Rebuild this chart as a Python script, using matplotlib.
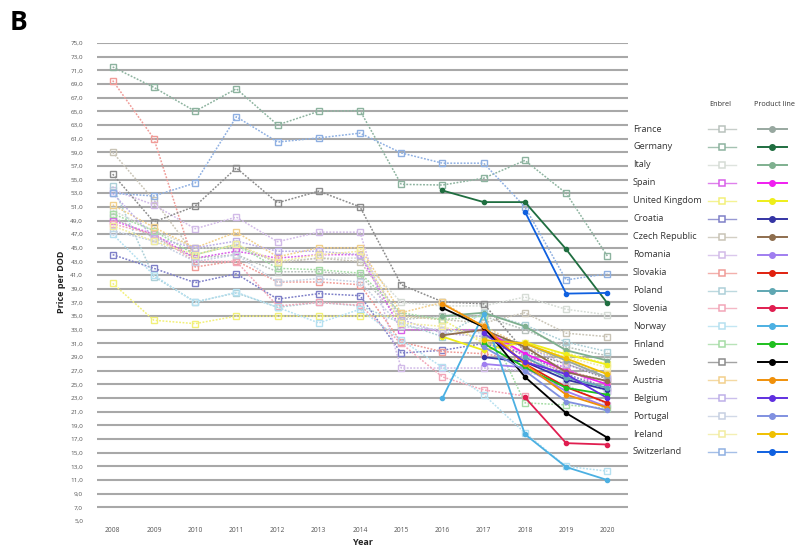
import matplotlib
matplotlib.use("Agg")
import matplotlib.pyplot as plt
from matplotlib.lines import Line2D
import numpy as np

plt.rcParams['font.family'] = ['Open Sans', 'DejaVu Sans']

years = list(range(2008, 2021))
countries = ["France", "Germany", "Italy", "Spain", "United Kingdom", "Croatia",
             "Czech Republic", "Romania", "Slovakia", "Poland", "Slovenia", "Norway",
             "Finland", "Sweden", "Austria", "Belgium", "Portugal", "Ireland", "Switzerland"]

N = None
# Price per DDD of Enbrel, 2008-2020
enbrel = {
    "France":         [49.5, 46.5, 43.5, 44.0, 41.5, 41.5, 41.0, 34.5, 35.0, 35.0, 33.0, 30.5, 29.2],
    "Germany":        [71.5, 68.5, 65.0, 68.3, 63.0, 65.0, 65.1, 54.3, 54.2, 55.2, 57.8, 53.0, 43.8],
    "Italy":          [50.5, 47.5, 45.0, 45.0, 43.0, 43.5, 43.5, 37.0, 36.5, 36.5, 37.8, 36.0, 35.2],
    "Spain":          [49.0, 47.0, 43.5, 44.5, 43.5, 44.0, 44.0, 33.0, 33.0, 33.0, 29.0, 27.5, 24.0],
    "United Kingdom": [39.8, 34.4, 33.9, 35.0, 35.0, 35.0, 35.0, 35.0, 34.5, 31.0, 30.0, 29.6, 28.0],
    "Croatia":        [44.0, 42.0, 39.9, 41.2, 37.5, 38.3, 38.0, 29.6, 30.0, 31.0, 29.5, 26.5, 24.5],
    "Czech Republic": [59.0, 52.0, 44.0, 45.5, 42.8, 43.5, 43.0, 35.0, 34.5, 34.0, 35.5, 32.5, 32.0],
    "Romania":        [53.5, 51.3, 47.8, 49.5, 45.9, 47.3, 47.3, 27.4, 27.4, 27.4, 27.0, 25.0, 22.0],
    "Slovakia":       [69.5, 61.0, 42.2, 43.1, 40.0, 40.0, 39.6, 31.2, 29.8, 29.5, 28.5, 27.0, 25.5],
    "Poland":         [54.0, 40.8, 37.1, 38.4, 36.3, 37.0, 36.5, 34.0, 32.0, 35.5, 33.7, 31.2, 29.8],
    "Slovenia":       [48.5, 47.0, 43.0, 43.0, 36.5, 37.0, 36.6, 31.0, 26.1, 24.2, 23.3, N, N],
    "Norway":         [47.0, 41.0, 37.0, 38.5, 36.3, 34.0, 36.0, 31.5, 27.5, 23.5, 17.9, 13.0, 12.3],
    "Finland":        [50.0, 47.5, 44.0, 45.5, 42.0, 41.8, 41.3, 35.5, 34.5, 35.0, 22.3, 22.0, 21.5],
    "Sweden":         [55.8, 48.8, 51.1, 56.7, 51.6, 53.3, 51.0, 39.6, 37.1, 36.8, 29.8, 28.0, 25.8],
    "Austria":        [51.3, 48.0, 45.0, 47.3, 43.7, 45.0, 45.0, 35.5, 37.0, 33.5, 30.5, 28.5, 26.5],
    "Belgium":        [53.0, 46.5, 45.0, 46.0, 44.5, 44.5, 44.0, 34.5, 32.5, 32.0, 30.5, 28.0, 26.0],
    "Portugal":       [47.5, 46.0, 43.0, 44.0, 40.0, 40.5, 40.0, 33.5, 33.0, 32.5, 29.5, 26.0, 24.0],
    "Ireland":        [48.2, 46.0, 44.0, 45.5, 43.0, 44.0, 44.5, 34.0, 33.5, 31.5, 31.0, 29.0, 27.5],
    "Switzerland":    [53.0, 52.6, 54.5, 64.2, 60.5, 61.1, 61.8, 58.9, 57.4, 57.4, 51.0, 40.3, 41.2],
}

# Price per DDD of the whole product line (originator + biosimilars), 2008-2020
product_line = {
    "France":         [N, N, N, N, N, N, N, N, N, 32.0, 31.0, 28.5, 26.0],
    "Germany":        [N, N, N, N, N, N, N, N, 53.4, 51.7, 51.7, 44.8, 36.9],
    "Italy":          [N, N, N, N, N, N, N, N, 35.0, 35.5, 33.5, 30.0, 28.5],
    "Spain":          [N, N, N, N, N, N, N, N, N, 33.0, 29.5, 27.0, 25.0],
    "United Kingdom": [N, N, N, N, N, N, N, N, 32.0, 30.0, 31.2, 29.4, 27.9],
    "Croatia":        [N, N, N, N, N, N, N, N, N, 29.0, 28.3, 25.7, 24.2],
    "Czech Republic": [N, N, N, N, N, N, N, N, 32.2, 33.0, 30.5, 26.8, 25.5],
    "Romania":        [N, N, N, N, N, N, N, N, N, 28.0, 27.5, 24.0, 21.7],
    "Slovakia":       [N, N, N, N, N, N, N, N, N, 33.2, 28.0, 24.6, 22.3],
    "Poland":         [N, N, N, N, N, N, N, N, N, N, 29.0, 26.0, 24.5],
    "Slovenia":       [N, N, N, N, N, N, N, N, N, N, 23.1, 16.4, 16.2],
    "Norway":         [N, N, N, N, N, N, N, N, 23.0, 35.3, 17.7, 12.9, 11.0],
    "Finland":        [N, N, N, N, N, N, N, N, N, 31.0, 27.5, 24.5, 23.5],
    "Sweden":         [N, N, N, N, N, N, N, N, 36.2, 33.4, 26.1, 20.8, 17.2],
    "Austria":        [N, N, N, N, N, N, N, N, 36.8, 33.5, 28.0, 23.5, 21.6],
    "Belgium":        [N, N, N, N, N, N, N, N, N, 32.5, 28.3, 26.5, 23.0],
    "Portugal":       [N, N, N, N, N, N, N, N, N, 30.5, 27.0, 22.5, 21.2],
    "Ireland":        [N, N, N, N, N, N, N, N, N, 31.5, 31.0, 28.8, 26.5],
    "Switzerland":    [N, N, N, N, N, N, N, N, N, N, 50.3, 38.3, 38.4],
}

enbrel_colors = {
    "France": "#b9c2bd", "Germany": "#8db39f", "Italy": "#d6dcd6", "Spain": "#d860e8",
    "United Kingdom": "#f2f07a", "Croatia": "#7f80c8", "Czech Republic": "#c9c4b6",
    "Romania": "#d2bbe8", "Slovakia": "#f09c98", "Poland": "#add0d8", "Slovenia": "#f2a6b8",
    "Norway": "#b5e0f0", "Finland": "#a6dca6", "Sweden": "#8c8c8c", "Austria": "#f2d08c",
    "Belgium": "#beb0e8", "Portugal": "#c6d0e2", "Ireland": "#f2eca0", "Switzerland": "#8fb0e2",
}
product_colors = {
    "France": "#98a8a0", "Germany": "#1f6e40", "Italy": "#7fb08f", "Spain": "#f01ef0",
    "United Kingdom": "#eeee1a", "Croatia": "#3434a4", "Czech Republic": "#8e6e4e",
    "Romania": "#a07ef0", "Slovakia": "#e0200e", "Poland": "#5fa7b2", "Slovenia": "#e01e50",
    "Norway": "#4cb0e2", "Finland": "#1ec01e", "Sweden": "#000000", "Austria": "#f0900a",
    "Belgium": "#6030e0", "Portugal": "#8090e0", "Ireland": "#f0c000", "Switzerland": "#0f60e0",
}

W, H = 796, 549
fig = plt.figure(figsize=(W / 100, H / 100), dpi=100)
ax = fig.add_axes([97 / W, 1 - 521 / H, (628 - 97) / W, (521 - 43) / H])

yticks = np.arange(5, 76, 2)
for v in yticks[1:]:
    ax.axhline(v, color="#a8a8a8", lw=1.5, zorder=0)

def to_arr(vals):
    return np.array([np.nan if v is None else v for v in vals], dtype=float)

for c in countries:
    ax.plot(years, to_arr(enbrel[c]), ls=(0, (1.2, 1.0)), lw=1.1, color=enbrel_colors[c],
            marker="s", ms=4.0, mfc="none", mec=enbrel_colors[c], mew=1.0, zorder=2)
for c in countries:
    ax.plot(years, to_arr(product_line[c]), ls="-", lw=1.3, color=product_colors[c],
            marker="o", ms=3.0, mfc=product_colors[c], mec=product_colors[c], zorder=3)

ax.set_xlim(2007.62, 2020.5)
ax.set_ylim(5, 75)
ax.set_yticks(yticks)
ax.set_yticklabels([f"{v:.1f}".replace(".", ",") for v in yticks], fontsize=4.6, color="#555555")
ax.set_xticks(years)
ax.set_xticklabels([str(y) for y in years], fontsize=4.8, color="#555555")
ax.tick_params(axis="y", length=0, pad=10)
ax.tick_params(axis="x", length=0, pad=4)
for s in ax.spines.values():
    s.set_visible(False)
ax.set_ylabel("Price per DOD", fontsize=6.5, fontweight="bold", color="#222222", labelpad=3)
ax.set_xlabel("Year", fontsize=6.5, fontweight="bold", color="#222222", labelpad=3)

fig.text(10 / W, 1 - 22 / H, "B", fontsize=19, fontweight="bold", va="center", ha="left")

# Legend panel in pixel coordinates
lg = fig.add_axes([0, 0, 1, 1], facecolor="none")
lg.set_xlim(0, W)
lg.set_ylim(H, 0)
lg.axis("off")
lg.text(720, 105, "Enbrel", fontsize=5.2, ha="center", va="center", color="#333333")
lg.text(775, 105, "Product line", fontsize=5.2, ha="center", va="center", color="#333333")
y0, dy = 129, (452 - 129) / 18
for i, c in enumerate(countries):
    yy = y0 + i * dy
    lg.text(633, yy, c, fontsize=6.6, ha="left", va="center", color="#333333")
    lg.add_line(Line2D([708, 736], [yy, yy], lw=1.0, color=enbrel_colors[c], alpha=0.8))
    lg.plot([722], [yy], marker="s", ms=4.5, mfc="white", mec=enbrel_colors[c], mew=1.1)
    lg.add_line(Line2D([758, 787], [yy, yy], lw=1.4, color=product_colors[c]))
    lg.plot([772], [yy], marker="o", ms=4.0, mfc=product_colors[c], mec=product_colors[c])

fig.savefig("out.png", dpi=100)
